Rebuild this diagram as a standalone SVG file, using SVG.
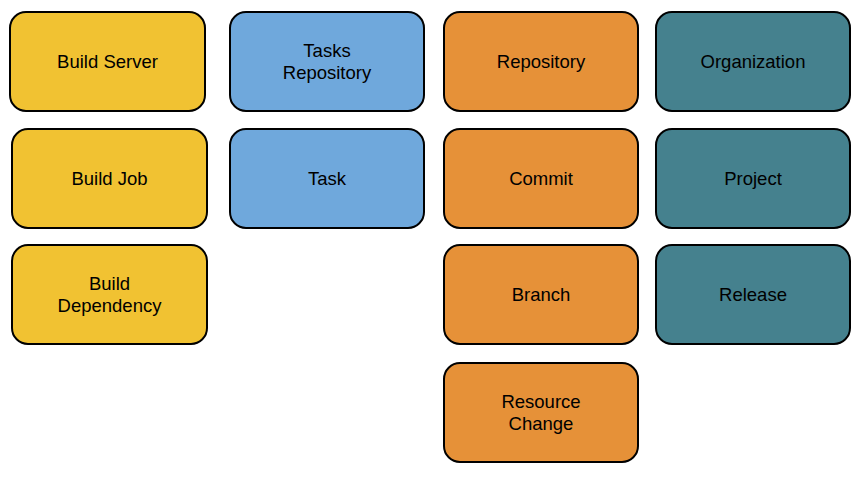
<svg xmlns="http://www.w3.org/2000/svg" width="863" height="480" viewBox="0 0 863 480">
<style>
rect{stroke:#000;stroke-width:2;}
.y{fill:#F1C232;}.b{fill:#6FA8DC;}.o{fill:#E69138;}.t{fill:#45818E;}
text{font-family:"Liberation Sans",Arial,sans-serif;font-size:18.5px;fill:#000;text-anchor:middle;}
</style>
<rect width="863" height="480" fill="#fff" style="stroke:none"/>
<g id="connectors"/>
<g id="build-server"><rect class="y" x="10" y="12" width="195" height="99" rx="16"/><text x="107.5" y="68">Build Server</text></g>
<g id="build-job"><rect class="y" x="12" y="129" width="195" height="99" rx="16"/><text x="109.5" y="185">Build Job</text></g>
<g id="build-dependency"><rect class="y" x="12" y="245" width="195" height="99" rx="16"/><text x="109.5" y="290">Build</text><text x="109.5" y="312">Dependency</text></g>
<g id="tasks-repository"><rect class="b" x="230" y="12" width="194" height="99" rx="16"/><text x="327" y="57">Tasks</text><text x="327" y="79">Repository</text></g>
<g id="task"><rect class="b" x="230" y="129" width="194" height="99" rx="16"/><text x="327" y="185">Task</text></g>
<g id="repository"><rect class="o" x="444" y="12" width="194" height="99" rx="16"/><text x="541" y="68">Repository</text></g>
<g id="commit"><rect class="o" x="444" y="129" width="194" height="99" rx="16"/><text x="541" y="185">Commit</text></g>
<g id="branch"><rect class="o" x="444" y="245" width="194" height="99" rx="16"/><text x="541" y="301">Branch</text></g>
<g id="resource-change"><rect class="o" x="444" y="363" width="194" height="99" rx="16"/><text x="541" y="408">Resource</text><text x="541" y="430">Change</text></g>
<g id="organization"><rect class="t" x="656" y="12" width="194" height="99" rx="16"/><text x="753" y="68">Organization</text></g>
<g id="project"><rect class="t" x="656" y="129" width="194" height="99" rx="16"/><text x="753" y="185">Project</text></g>
<g id="release"><rect class="t" x="656" y="245" width="194" height="99" rx="16"/><text x="753" y="301">Release</text></g>
</svg>
